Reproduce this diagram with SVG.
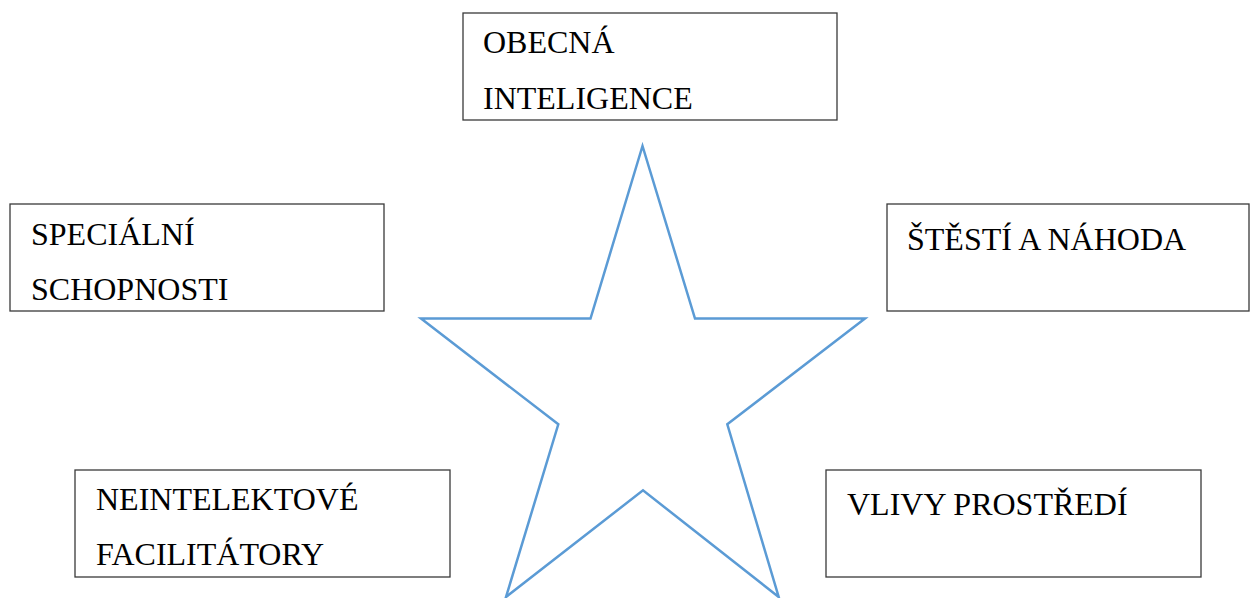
<svg xmlns="http://www.w3.org/2000/svg" width="1250" height="598" viewBox="0 0 1250 598">
<style>
.box{fill:#fff;stroke:#3a3a3a;stroke-width:1.3}
.t{font-family:"Liberation Serif","Times New Roman",serif;font-size:32px;fill:#000}
.star{fill:none;stroke:#5B9BD5;stroke-width:2.5;stroke-linejoin:miter}
</style>
<rect width="1250" height="598" fill="#fff"/>
<g id="star">
<polygon class="star" points="642.5,146 590.5,318.5 421,318.5 558.3,424.3 506,597 643,490.3 778.7,597 727.3,424.3 865,318.5 695,318.5"/>
</g>
<g id="obecna">
<rect class="box" x="463" y="13" width="374" height="107"/>
<text class="t" x="483" y="53">OBECNÁ</text>
<text class="t" x="483" y="108.5">INTELIGENCE</text>
</g>
<g id="specialni">
<rect class="box" x="10" y="204" width="374" height="107"/>
<text class="t" x="31" y="245">SPECIÁLNÍ</text>
<text class="t" x="31" y="300">SCHOPNOSTI</text>
</g>
<g id="stesti">
<rect class="box" x="887" y="204" width="362" height="107"/>
<text class="t" x="907" y="250">ŠTĚSTÍ A NÁHODA</text>
</g>
<g id="neintelektove">
<rect class="box" x="75" y="470" width="375" height="107"/>
<text class="t" x="96" y="510">NEINTELEKTOVÉ</text>
<text class="t" x="96" y="565">FACILITÁTORY</text>
</g>
<g id="vlivy">
<rect class="box" x="826" y="470" width="375" height="107"/>
<text class="t" x="847" y="515">VLIVY PROSTŘEDÍ</text>
</g>
<g id="connectors"/>
</svg>
